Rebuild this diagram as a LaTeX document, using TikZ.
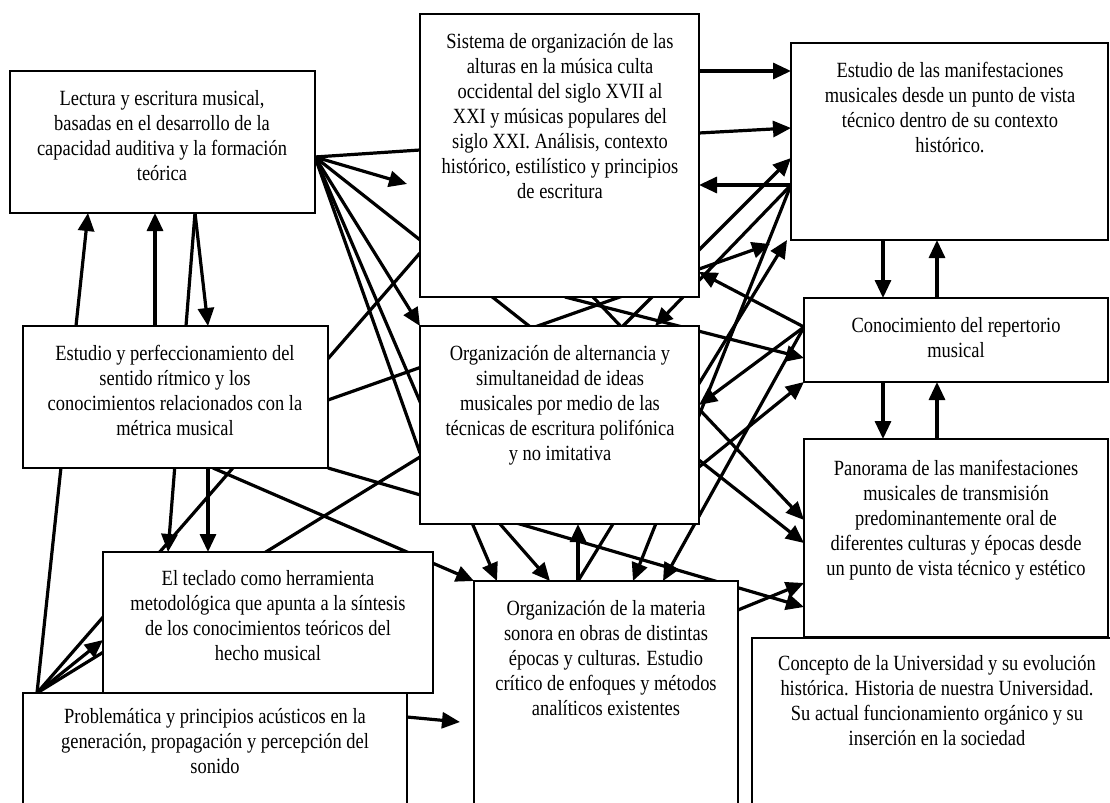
\documentclass[tikz,border=0pt]{standalone}
\usepackage{fontspec}
\setmainfont{Liberation Serif}[FakeStretch=0.85]
\usetikzlibrary{arrows.meta}
\pgfdeclarelayer{back}
\pgfsetlayers{back,main}
\begin{document}
\begin{tikzpicture}[x=0.5pt,y=-0.5pt,
  box/.style={draw=black,line width=1pt,fill=white,anchor=north west,inner sep=0pt,outer sep=0pt},
  txt/.style={anchor=north,align=center,inner sep=0pt,font=\fontsize{10.85pt}{12.5pt}\selectfont},
  conn/.style={line width=1.6pt},
  arr/.style={conn,-{Triangle[length=9pt,width=8pt]}}]
\useasboundingbox (0,0) rectangle (1110,803);
\clip (0,0) rectangle (1110,803);
% boxes
\node[box,minimum width=152.5pt,minimum height=71pt] (A) at (10,71) {};
\node[box,minimum width=139.5pt,minimum height=141.5pt] (B) at (420,14) {};
\node[box,minimum width=158.5pt,minimum height=98.5pt] (C) at (791,43) {};
\node[box,minimum width=152.5pt,minimum height=71pt] (D) at (23,326) {};
\node[box,minimum width=139.5pt,minimum height=99pt] (E) at (420,326) {};
\node[box,minimum width=152pt,minimum height=42pt] (F) at (804,298) {};
\node[box,minimum width=152pt,minimum height=99pt] (G) at (804,439) {};
\node[box,minimum width=165pt,minimum height=70.5pt] (H) at (103,552) {};
\node[box,minimum width=192pt,minimum height=73.5pt] (I) at (23,693) {};
\node[box,minimum width=132pt,minimum height=129.5pt] (J) at (474,581) {};
\node[box,minimum width=186.5pt,minimum height=101pt] (K) at (752,638) {};
% texts
\node[txt] (At) at (162,90) {Lectura y escritura musical,\\ basadas en el desarrollo de la\\ capacidad auditiva y la formación\\ teórica};
\node[txt] (Bt) at (560,33) {Sistema de organización de las\\ alturas en la música culta\\ occidental del siglo XVII al\\ XXI y músicas populares del\\ siglo XXI. Análisis, contexto\\ histórico, estilístico y principios\\ de escritura};
\node[txt] (Ct) at (950,62) {Estudio de las manifestaciones\\ musicales desde un punto de vista\\ técnico dentro de su contexto\\ histórico.};
\node[txt] (Dt) at (175,345) {Estudio y perfeccionamiento del\\ sentido rítmico y los\\ conocimientos relacionados con la\\ métrica musical};
\node[txt] (Et) at (560,345) {Organización de alternancia y\\ simultaneidad de ideas\\ musicales por medio de las\\ técnicas de escritura polifónica\\ y no imitativa};
\node[txt] (Ft) at (956,317) {Conocimiento del repertorio\\ musical};
\node[txt] (Gt) at (956,460) {Panorama de las manifestaciones\\ musicales de transmisión\\ predominantemente oral de\\ diferentes culturas y épocas desde\\ un punto de vista técnico y estético};
\node[txt] (Ht) at (268,570) {El teclado como herramienta\\ metodológica que apunta a la síntesis\\ de los conocimientos teóricos del\\ hecho musical};
\node[txt] (It) at (215,708) {Problemática y principios acústicos en la\\ generación, propagación y percepción del\\ sonido};
\node[txt] (Jt) at (606,600) {Organización de la materia\\ sonora en obras de distintas\\ épocas y culturas. Estudio\\ crítico de enfoques y métodos\\ analíticos existentes};
\node[txt] (Kt) at (937,655) {Concepto de la Universidad y su evolución\\ histórica. Historia de nuestra Universidad.\\ Su actual funcionamiento orgánico y su\\ inserción en la sociedad};
% connector end points
\coordinate (a) at (A.east |- 0,157);
\coordinate (a2) at (195,0 |- A.south);
\coordinate (i) at (37,0 |- I.north);
\coordinate (c) at (C.west |- 0,185);
\coordinate (f) at (F.west |- 0,327);
\coordinate (p2) at (407,184);
\coordinate (p16) at (770,244);
\coordinate (p18) at (460,722);
\coordinate (e1) at (560,389);
\begin{pgfonlayer}{back}
\fill[white] (0,0) rectangle (1110,803);
\draw[conn] (a) -- (B.west |- 0,150);
\draw[arr] (a) -- (p2);
\draw[arr] (a) -- (G.west |- 0,543);
\draw[arr] (a) -- (E.north west);
\draw[arr] (a) -- (497,0 |- J.north);
\draw[conn] (a) -- (E.west |- 0,453);
\draw[arr] (i) -- (88,0 |- A.south);
\draw[arr] (155,0 |- D.north) -- (155,0 |- A.south);
\draw[arr] (a2) -- (208,0 |- D.north);
\draw[arr] (a2) -- (168,0 |- H.north);
\draw[arr] (208,0 |- D.south) -- (208,0 |- H.north);
\draw[conn] (i) -- (B.west |- 0,253);
\draw[arr] (213,0 |- D.south) -- (J.north west);
\draw[arr] (D.south east) -- (G.west |- 0,607);
\draw[conn] (i) -- (E.west |- 0,457);
\draw[arr] (D.east |- 0,400) -- (p16);
\draw[arr] (i) -- (H.west |- 0,640);
\draw[arr] (I.east |- 0,717) -- (p18);
\draw[arr] (B.east |- 0,71) -- (C.west |- 0,71);
\draw[arr] (B.east |- 0,133) -- (C.west |- 0,128);
\draw[arr] (c) -- (B.east |- 0,185);
\draw[arr] (e1) -- (C.west |- 0,158);
\draw[arr] (c) -- (655,0 |- E.north);
\draw[arr] (c) -- (633,0 |- J.north);
\draw[arr] (578,0 |- J.north) -- (787,0 |- C.south);
\draw[arr] (f) -- (B.east |- 0,272);
\draw[arr] (f) -- (E.east |- 0,405);
\draw[arr] (f) -- (663,0 |- J.north);
\draw[arr] (565,0 |- B.south) -- (F.west |- 0,358);
\draw[arr] (E.east |- 0,467) -- (F.south west);
\draw[arr] (593,0 |- B.south) -- (G.west |- 0,520);
\draw[arr] (J.east |- 0,610) -- (G.west |- 0,583);
\draw[arr] (578,0 |- J.north) -- (578,0 |- E.south);
\draw[arr] (500,0 |- E.south) -- (550,0 |- J.north);
\draw[arr] (883,0 |- C.south) -- (883,0 |- F.north);
\draw[arr] (937,0 |- F.north) -- (937,0 |- C.south);
\draw[arr] (883,0 |- F.south) -- (883,0 |- G.north);
\draw[arr] (937,0 |- G.north) -- (937,0 |- F.south);
\end{pgfonlayer}
\end{tikzpicture}
\end{document}
